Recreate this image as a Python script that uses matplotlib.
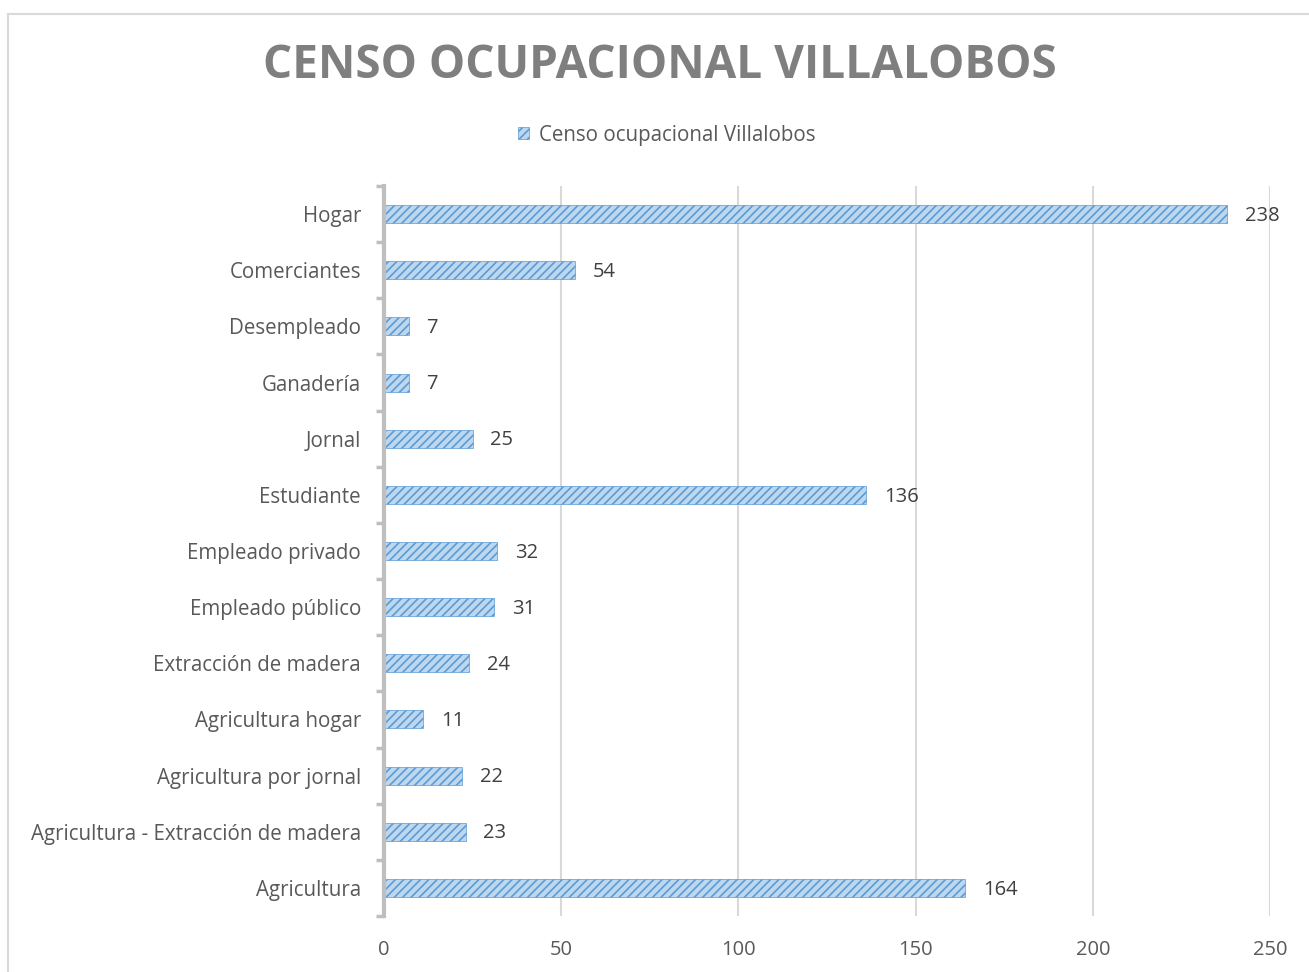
import numpy as np
import matplotlib.pyplot as plt
from matplotlib.lines import Line2D

categorias = ['Agricultura', 'Agricultura - Extracción de madera', 'Agricultura por jornal',
              'Agricultura hogar', 'Extracción de madera', 'Empleado público',
              'Empleado privado', 'Estudiante', 'Jornal', 'Ganadería', 'Desempleado',
              'Comerciantes', 'Hogar']
valores = [164, 23, 22, 11, 24, 31, 32, 136, 25, 7, 7, 54, 238]
ticks_x = [0, 50, 100, 150, 200, 250]

plt.rcParams['font.family'] = ['Open Sans', 'DejaVu Sans']
plt.rcParams['hatch.linewidth'] = 1.2

fig = plt.figure(figsize=(13.09, 9.72), dpi=100)
ax = fig.add_axes([384/1309, 1 - 916/972, (1270 - 384)/1309, (916 - 186)/972])

y = np.arange(len(categorias))
bars = ax.barh(y, valores, height=0.32, color='#BDD7EE', edgecolor='#5B9BD5',
               hatch='////', linewidth=0.5, label='Censo ocupacional Villalobos', zorder=3)
for b, v in zip(bars, valores):
    ax.text(v + 5, b.get_y() + b.get_height()/2 - 0.03, str(v), va='center', ha='left',
            fontsize=14.5, color='#404040')

ax.set_xlim(0, 250)
ax.set_ylim(-0.5, len(categorias) - 0.5)
ax.set_xticks(ticks_x)
ax.set_yticks(y)
ax.set_yticklabels(categorias)
ax.set_yticks(np.arange(-0.5, len(categorias)), minor=True)
ax.tick_params(axis='y', which='major', length=0, pad=16.5, labelsize=14.8, labelcolor='#595959')
ax.tick_params(axis='y', which='minor', length=6, width=2.5, color='#BFBFBF')
ax.tick_params(axis='x', length=0, pad=17, labelsize=14.5, labelcolor='#595959')
ax.grid(axis='x', color='#D9D9D9', linewidth=1.5, zorder=0)
for s in ['top', 'right', 'bottom']:
    ax.spines[s].set_visible(False)
ax.spines['left'].set_color('#BFBFBF')
ax.spines['left'].set_linewidth(3)
ax.spines['left'].set_zorder(4)

fig.text(660/1309, 1 - 66/972, 'CENSO OCUPACIONAL VILLALOBOS', ha='center', va='center',
         fontsize=33, fontweight='bold', color='#7F7F7F')
fig.legend(loc='center', bbox_to_anchor=(667/1309, 1 - 135/972), frameon=False,
           fontsize=14.8, labelcolor='#595959', handlelength=0.5, handleheight=0.5,
           handletextpad=0.5)

# marco del grafico
fig.add_artist(Line2D([8/1309, 1308/1309], [1 - 14/972, 1 - 14/972], color='#D9D9D9', linewidth=1.5))
fig.add_artist(Line2D([8/1309, 8/1309], [0, 1 - 14/972], color='#D9D9D9', linewidth=1.5))

fig.savefig('out.png', dpi=100)
